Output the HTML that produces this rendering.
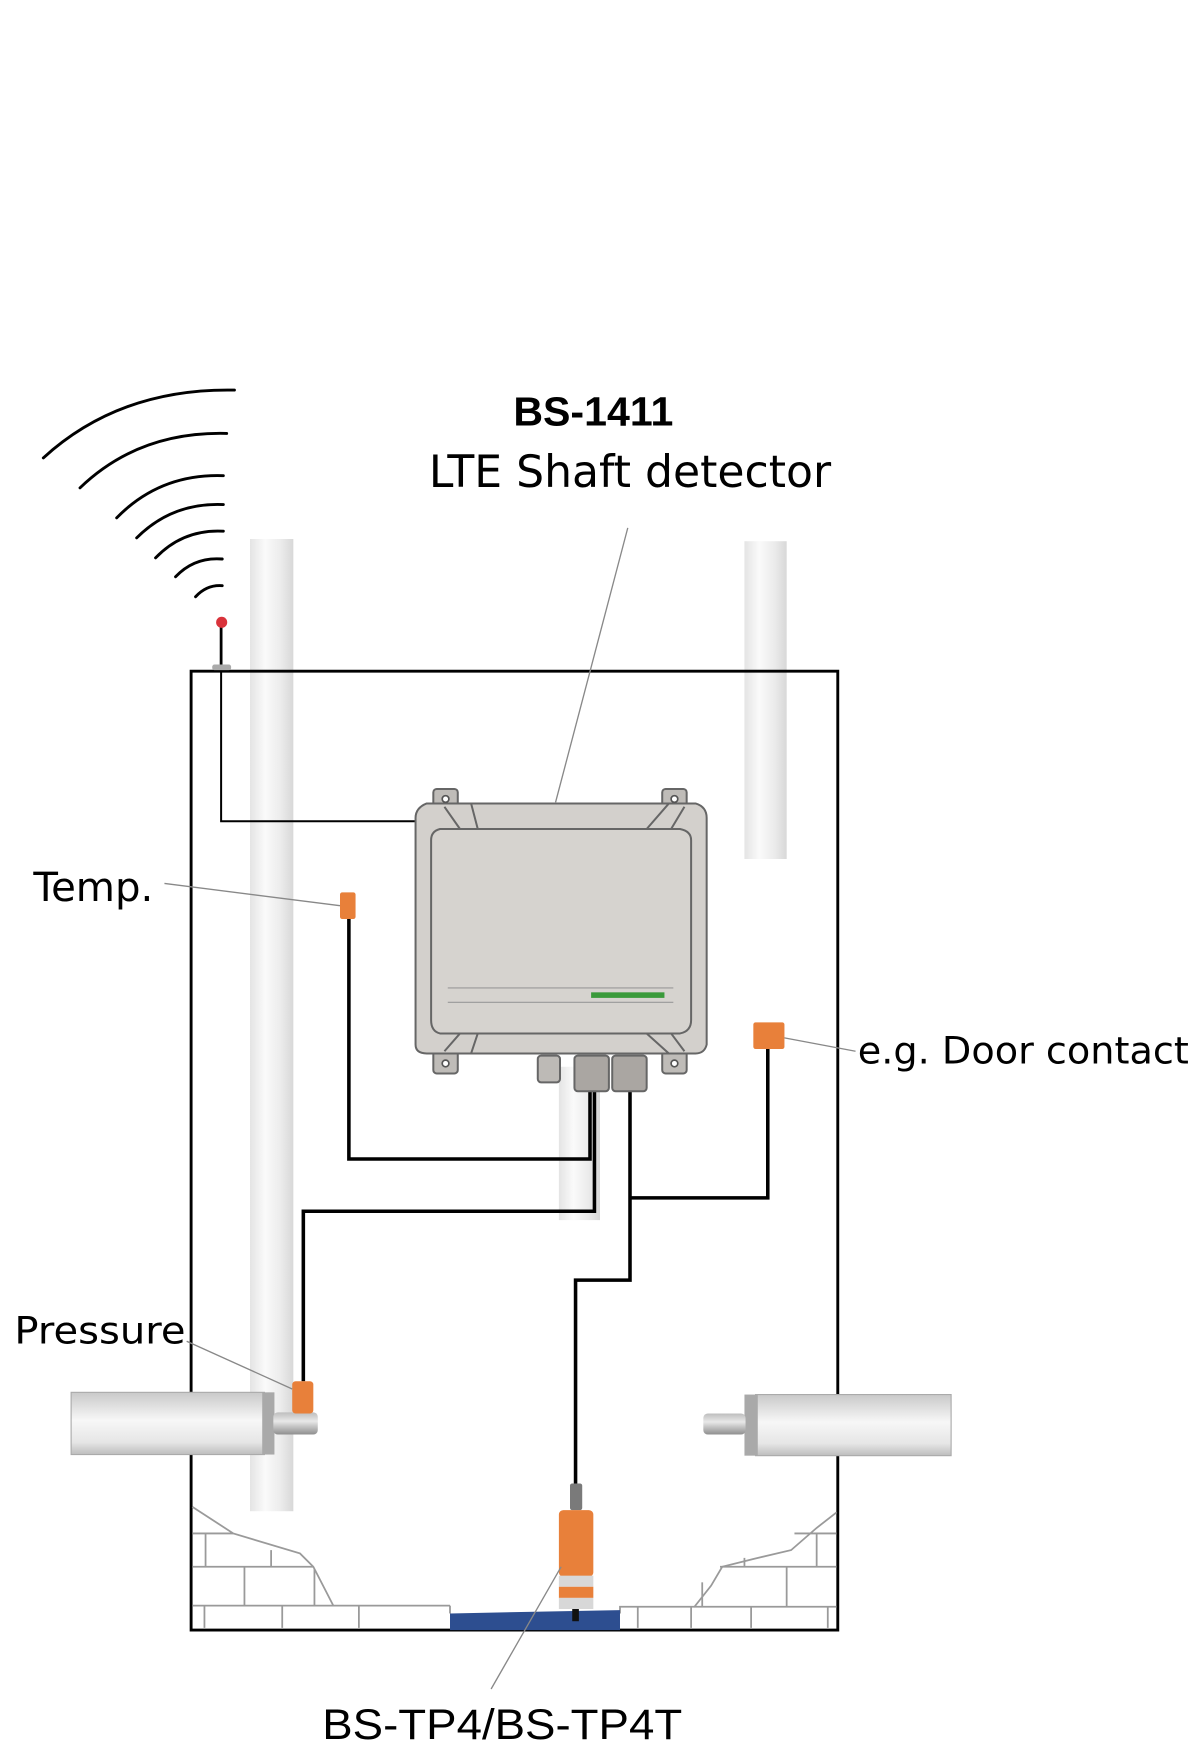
<!DOCTYPE html>
<html><head><meta charset="utf-8"><style>
html,body{margin:0;padding:0;background:#fff;}
svg{display:block;}
</style></head><body>
<svg width="1200" height="1748" viewBox="0 0 1080 1573" xmlns="http://www.w3.org/2000/svg">
<defs>
<linearGradient id="pv" x1="0" x2="1" y1="0" y2="0">
<stop offset="0" stop-color="#e4e4e4"/><stop offset="0.35" stop-color="#fafafa"/><stop offset="0.7" stop-color="#ececec"/><stop offset="1" stop-color="#d8d8d8"/>
</linearGradient>
<linearGradient id="ph" x1="0" x2="0" y1="0" y2="1">
<stop offset="0" stop-color="#c9c9c9"/><stop offset="0.45" stop-color="#f7f7f7"/><stop offset="0.8" stop-color="#e6e6e6"/><stop offset="1" stop-color="#bdbdbd"/>
</linearGradient>
<linearGradient id="rod" x1="0" x2="0" y1="0" y2="1">
<stop offset="0" stop-color="#bdbdbd"/><stop offset="0.4" stop-color="#e8e8e8"/><stop offset="1" stop-color="#8e8e8e"/>
</linearGradient>
</defs>

<g fill="none" stroke="#000" stroke-width="2.6" stroke-linecap="round">
<path d="M39,412 Q108,349 211,351"/>
<path d="M72,439 Q125,388 204,390"/>
<path d="M105,466 Q144,426 201,428"/>
<path d="M123,484 Q155,452 201,454"/>
<path d="M140,502 Q165,476 201,478"/>
<path d="M158,519 Q175,501 200,503"/>
<path d="M176,537 Q186,526 200,527"/>
</g>

<rect x="225" y="485" width="39" height="875" fill="url(#pv)"/>
<rect x="670" y="487" width="38" height="286" fill="url(#pv)"/>
<rect x="503" y="960" width="37" height="138" fill="url(#pv)"/>

<g stroke="#000" stroke-width="2.6" fill="none">
<path d="M172,1467 L172,604 L754,604 L754,1467 Z"/>
</g>

<g stroke="#9a9a9a" stroke-width="1.6" fill="none">
<path d="M173,1356 L210,1380 L270,1398 L282,1410 L300,1445 L405,1445"/>
<path d="M173,1380 L210,1380"/>
<path d="M185,1380 L185,1410"/>
<path d="M173,1410 L282,1410"/>
<path d="M244,1395 L244,1410"/>
<path d="M220,1410 L220,1445"/>
<path d="M283,1412 L283,1445"/>
<path d="M173,1445 L300,1445"/>
<path d="M184,1445 L184,1465 M254,1445 L254,1465 M323,1445 L323,1465"/>
<path d="M405,1445 L405,1452"/>
</g>
<g stroke="#9a9a9a" stroke-width="1.6" fill="none">
<path d="M753,1361 L735,1375 L712,1395 L678,1403 L650,1410 L640,1427 L625,1446 L558,1446 L558,1452"/>
<path d="M715,1380 L753,1380"/>
<path d="M735,1380 L735,1410"/>
<path d="M648,1410 L753,1410"/>
<path d="M670,1402 L670,1410"/>
<path d="M708,1410 L708,1446"/>
<path d="M632,1424 L632,1446"/>
<path d="M625,1446 L753,1446"/>
<path d="M574,1446 L574,1465 M622,1446 L622,1465 M676,1446 L676,1465 M745,1446 L745,1465"/>
</g>
<path d="M405,1452 L558,1449 L558,1467 L405,1467 Z" fill="#2d4e90"/>

<rect x="64" y="1253" width="174" height="56" fill="url(#ph)" stroke="#aaa" stroke-width="1"/>
<rect x="236" y="1253" width="11" height="56" fill="#a9a9a9"/>
<rect x="246" y="1271" width="40" height="20" rx="4" fill="url(#rod)"/>
<rect x="680" y="1255" width="176" height="55" fill="url(#ph)" stroke="#aaa" stroke-width="1"/>
<rect x="670" y="1255" width="12" height="55" fill="#a9a9a9"/>
<rect x="633" y="1272" width="38" height="19" rx="4" fill="url(#rod)"/>

<g fill="none" stroke="#000" stroke-width="3.2">
<path d="M199,604 L199,739 L375,739" stroke-width="1.8"/>
<path d="M314,826 L314,1043 L531,1043 L531,975"/>
<path d="M273,1243 L273,1090 L535,1090 L535,975"/>
<path d="M567,980 L567,1152 L518,1152 L518,1338"/>
<path d="M567,1078 L691,1078 L691,944"/>
</g>

<line x1="199" y1="562" x2="199" y2="600" stroke="#000" stroke-width="2.5"/>
<circle cx="199.5" cy="560" r="5" fill="#d9323a"/>
<rect x="191" y="598" width="17" height="5" rx="2" fill="#aaa"/>

<g stroke="#666" stroke-width="1.8">
<rect x="390" y="710" width="22" height="20" rx="3" fill="#bfbcb8"/>
<rect x="596" y="710" width="22" height="20" rx="3" fill="#bfbcb8"/>
<rect x="390" y="945" width="22" height="21" rx="3" fill="#bfbcb8"/>
<rect x="596" y="945" width="22" height="21" rx="3" fill="#bfbcb8"/>
<path d="M384,723 L626,723 Q636,726 636,736 L636,940 Q634,948 626,948 L384,948 Q374,948 374,940 L374,736 Q374,727 384,723 Z" fill="#d3d0cc"/>
<path d="M396,746 L612,746 Q622,748 622,756 L622,918 Q622,928 612,930 L396,930 Q388,928 388,918 L388,756 Q388,748 396,746 Z" fill="#d6d3cf"/>
<path d="M400,726 L414,746 M424,723 L430,746 M602,723 L582,746 M616,726 L604,746 M400,946 L414,930 M424,948 L430,930 M582,930 L602,948 M604,930 L616,946" fill="none"/>
<rect x="484" y="950" width="20" height="24" rx="3" fill="#bdbab6"/>
<rect x="517" y="950" width="31" height="32" rx="3" fill="#aaa6a2"/>
<rect x="551" y="950" width="31" height="32" rx="3" fill="#aaa6a2"/>
</g>
<circle cx="401" cy="719" r="3" fill="#fff" stroke="#555" stroke-width="1.5"/>
<circle cx="607" cy="719" r="3" fill="#fff" stroke="#555" stroke-width="1.5"/>
<circle cx="401" cy="957" r="3" fill="#fff" stroke="#555" stroke-width="1.5"/>
<circle cx="607" cy="957" r="3" fill="#fff" stroke="#555" stroke-width="1.5"/>
<line x1="403" y1="889" x2="606" y2="889" stroke="#999" stroke-width="1"/>
<line x1="403" y1="902" x2="606" y2="902" stroke="#999" stroke-width="1"/>
<rect x="532" y="893" width="66" height="5" fill="#3a9a3a"/>

<rect x="306" y="803" width="14" height="24" rx="2" fill="#e8803a"/>
<rect x="678" y="920" width="28" height="24" rx="2" fill="#e8803a"/>
<rect x="263" y="1243" width="19" height="29" rx="3" fill="#e8803a"/>

<rect x="513" y="1335" width="11" height="24" rx="2" fill="#7a7a7a"/>
<rect x="503" y="1359" width="31" height="60" rx="4" fill="#e8803a"/>
<rect x="503" y="1418" width="31" height="10" fill="#d8d8d8"/>
<rect x="503" y="1428" width="31" height="10" fill="#e8803a"/>
<rect x="503" y="1438" width="31" height="10" fill="#d8d8d8"/>
<rect x="515" y="1448" width="6" height="11" fill="#111"/>

<g stroke="#888" stroke-width="1.2" fill="none">
<line x1="500" y1="722" x2="565" y2="475"/>
<line x1="148" y1="795" x2="306" y2="815"/>
<line x1="706" y1="934" x2="770" y2="946"/>
<line x1="168" y1="1207" x2="263" y2="1250"/>
<line x1="505" y1="1410" x2="442" y2="1520"/>
</g>

<g font-family="'DejaVu Sans','Liberation Sans',sans-serif" fill="#000">
<text x="534" y="383" font-size="37" font-weight="bold" text-anchor="middle" font-family="'Liberation Sans',sans-serif">BS-1411</text>
<text x="567" y="438" font-size="40" text-anchor="middle" textLength="362" lengthAdjust="spacingAndGlyphs">LTE Shaft detector</text>
<text x="30" y="811" font-size="36" textLength="108" lengthAdjust="spacingAndGlyphs">Temp.</text>
<text x="772" y="957" font-size="34" textLength="298" lengthAdjust="spacingAndGlyphs">e.g. Door contact</text>
<text x="13" y="1209" font-size="34" textLength="154" lengthAdjust="spacingAndGlyphs">Pressure</text>
<text x="290" y="1565" font-size="38" font-family="'Liberation Sans',sans-serif" textLength="324" lengthAdjust="spacingAndGlyphs">BS-TP4/BS-TP4T</text>
</g>
</svg>
</body></html>
